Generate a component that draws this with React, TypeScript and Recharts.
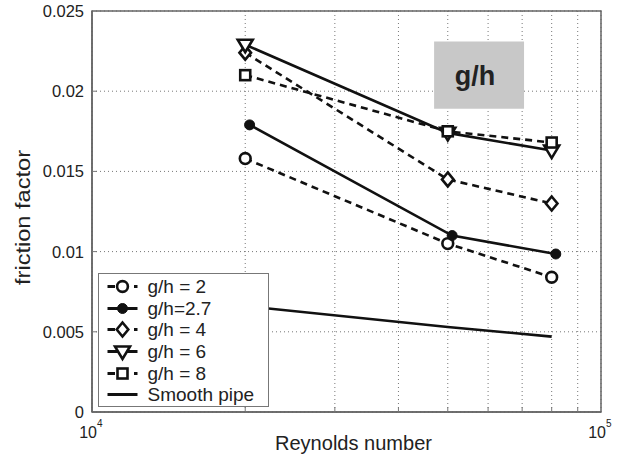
import React from "react";
import {
  LineChart,
  Line,
  XAxis,
  YAxis,
  CartesianGrid,
  ReferenceArea,
} from "recharts";

// ---- data ----
const reynolds = [20000, 50000, 80000];
const reynolds27 = [20400, 51000, 81500];
const gh2 = [0.0158, 0.0105, 0.0084];
const gh27 = [0.0179, 0.011, 0.00985];
const gh4 = [0.0224, 0.0145, 0.0130];
const gh6 = [0.0229, 0.0174, 0.0163];
const gh8 = [0.0210, 0.0175, 0.0168];
const smoothPipe = [0.0066, 0.0053, 0.0047];

const xTicks = [10000, 20000, 30000, 40000, 50000, 60000, 70000, 80000, 90000, 100000];
const yTicks = [0, 0.005, 0.01, 0.015, 0.02, 0.025];

const seriesNames = ["g/h = 2", "g/h=2.7", "g/h = 4", "g/h = 6", "g/h = 8", "Smooth pipe"];

const toRows = (xs: number[], ys: number[]) => xs.map((re, i) => ({ re, f: ys[i] }));

const FONT = "'Liberation Sans', Arial, Helvetica, sans-serif";
const INK = "#111";
const TXT = "#222";

type MarkerKind = "circle" | "dot" | "diamond" | "triangle" | "square" | "none";

const drawMarker = (kind: MarkerKind, cx: number, cy: number, key?: any) => {
  const sw = 2.6;
  switch (kind) {
    case "circle":
      return <circle key={key} cx={cx} cy={cy} r={5.4} fill="#fff" stroke={INK} strokeWidth={sw} />;
    case "dot":
      return <circle key={key} cx={cx} cy={cy} r={5} fill={INK} stroke={INK} strokeWidth={1} />;
    case "diamond":
      return (
        <polygon
          key={key}
          points={`${cx},${cy - 7} ${cx + 5.8},${cy} ${cx},${cy + 7} ${cx - 5.8},${cy}`}
          fill="#fff"
          stroke={INK}
          strokeWidth={sw}
        />
      );
    case "triangle":
      return (
        <polygon
          key={key}
          points={`${cx - 7.5},${cy - 5} ${cx + 7.5},${cy - 5} ${cx},${cy + 7.5}`}
          fill="#fff"
          stroke={INK}
          strokeWidth={sw}
        />
      );
    case "square":
      return <rect key={key} x={cx - 5} y={cy - 5} width={10} height={10} fill="#fff" stroke={INK} strokeWidth={sw} />;
    default:
      return <g key={key} />;
  }
};

const makeDot = (kind: MarkerKind) => (props: any) => {
  const { cx, cy, index } = props;
  if (cx == null || cy == null) return <g key={`d${index}`} />;
  return drawMarker(kind, cx, cy, `d${index}`);
};

const series = [
  { name: seriesNames[0], data: toRows(reynolds, gh2), dashed: true, marker: "circle" as MarkerKind },
  { name: seriesNames[1], data: toRows(reynolds27, gh27), dashed: false, marker: "dot" as MarkerKind },
  { name: seriesNames[2], data: toRows(reynolds, gh4), dashed: true, marker: "diamond" as MarkerKind },
  { name: seriesNames[3], data: toRows(reynolds, gh6), dashed: false, marker: "triangle" as MarkerKind },
  { name: seriesNames[4], data: toRows(reynolds, gh8), dashed: true, marker: "square" as MarkerKind },
  { name: seriesNames[5], data: toRows(reynolds, smoothPipe), dashed: false, marker: "none" as MarkerKind },
];

// tick props: y = axisLine + tickSize(6) + tickMargin(2)
const XTick = (props: any) => {
  const { x, y, payload } = props;
  const v = payload.value;
  const axisY = y - 8;
  const isDecade = v === 10000 || v === 100000;
  const exp = Math.round(Math.log10(v));
  return (
    <g>
      {!isDecade && <line x1={x} x2={x} y1={axisY} y2={axisY - 5} stroke="#777" strokeWidth={1} />}
      {isDecade && (
        <>
          <text x={x + 5} y={y + 18} textAnchor="end" fontSize={16} fontFamily={FONT} fill={TXT}>10</text>
          <text x={x + 5} y={y + 7} textAnchor="start" fontSize={10} fontFamily={FONT} fill={TXT}>{exp}</text>
        </>
      )}
    </g>
  );
};

const YTick = (props: any) => {
  const { x, y, payload, index } = props;
  const axisX = x + 8;
  const inner = index > 0 && index < yTicks.length - 1;
  return (
    <g>
      {inner && <line x1={axisX} x2={axisX + 5} y1={y} y2={y} stroke="#777" strokeWidth={1} />}
      <text x={x} y={y} dy="0.36em" textAnchor="end" fontSize={16.5} fontFamily={FONT} fill={TXT}>
        {String(payload.value)}
      </text>
    </g>
  );
};

const XLabel = (props: any) => {
  const vb = props.viewBox || {};
  const cx = vb.x + vb.width / 2 + 7;
  return (
    <text
      x={cx}
      y={vb.y + 38}
      textAnchor="middle"
      fontSize={20}
      fontFamily={FONT}
      fill={TXT}
      textLength={157}
      lengthAdjust="spacingAndGlyphs"
    >
      Reynolds number
    </text>
  );
};

const YLabel = (props: any) => {
  const vb = props.viewBox || {};
  const cx = 30;
  const cy = vb.y + vb.height / 2 + 6;
  return (
    <text
      x={cx}
      y={cy}
      transform={`rotate(-90 ${cx} ${cy})`}
      textAnchor="middle"
      fontSize={21}
      fontFamily={FONT}
      fill={TXT}
      textLength={135}
      lengthAdjust="spacingAndGlyphs"
    >
      friction factor
    </text>
  );
};

const LegendBox = () => (
  <div
    style={{
      position: "absolute",
      left: 98,
      top: 273,
      width: 171,
      height: 134,
      border: "1.5px solid #777",
      background: "#fff",
      boxSizing: "border-box",
      paddingTop: 1.5,
    }}
  >
    {series.map((s) => (
      <div key={s.name} style={{ display: "flex", alignItems: "center", height: 21.7 }}>
        <svg width={48.5} height={21} style={{ display: "block", flex: "none" }}>
          {s.dashed ? (
            <>
              <line x1={8.5} x2={16} y1={10.5} y2={10.5} stroke={INK} strokeWidth={3} />
              <line x1={35} x2={38.5} y1={10.5} y2={10.5} stroke={INK} strokeWidth={3} />
            </>
          ) : (
            <line x1={8.5} x2={38.5} y1={10.5} y2={10.5} stroke={INK} strokeWidth={3} />
          )}
          {drawMarker(s.marker, 23.5, 10.5)}
        </svg>
        <span style={{ fontFamily: FONT, fontSize: 19, color: TXT, lineHeight: "21px", whiteSpace: "nowrap" }}>
          {s.name}
        </span>
      </div>
    ))}
  </div>
);

export default function App() {
  return (
    <div style={{ position: "absolute", left: 0, top: 0, width: 624, height: 460, background: "#fff" }}>
      <LineChart
        width={624}
        height={460}
        margin={{ top: 11, right: 23, bottom: 18, left: 32 }}
      >
        <CartesianGrid stroke="#777" strokeDasharray="1 3" strokeWidth={1} />
        <XAxis
          xAxisId={0}
          type="number"
          dataKey="re"
          scale="log"
          domain={[10000, 100000]}
          ticks={xTicks}
          interval={0}
          allowDataOverflow
          height={30}
          tick={<XTick />}
          tickLine={false}
          axisLine={{ stroke: "#666", strokeWidth: 1.5 }}
          label={<XLabel />}
        />
        <YAxis
          yAxisId={0}
          type="number"
          domain={[0, 0.025]}
          ticks={yTicks}
          interval={0}
          width={60}
          tick={<YTick />}
          tickLine={false}
          axisLine={{ stroke: "#666", strokeWidth: 1.5 }}
          label={<YLabel />}
        />
        <ReferenceArea
          x1={10000}
          x2={100000}
          y1={0}
          y2={0.025}
          fill="none"
          stroke="#666"
          strokeWidth={1.5}
        />
        <ReferenceArea
          x1={47000}
          x2={70600}
          y1={0.0189}
          y2={0.0231}
          fill="#c8c8c8"
          fillOpacity={1}
          stroke="none"
          label={{
            value: "g/h",
            position: "center",
            fontSize: 27,
            fontWeight: "bold",
            fontFamily: FONT,
            fill: TXT,
            dx: -4,
          }}
        />
        {series.map((s) => (
          <Line
            key={s.name}
            name={s.name}
            data={s.data}
            dataKey="f"
            type="linear"
            stroke={INK}
            strokeWidth={2.6}
            strokeDasharray={s.dashed ? "7 5" : undefined}
            dot={makeDot(s.marker)}
            activeDot={false}
            isAnimationActive={false}
          />
        ))}
      </LineChart>
      <LegendBox />
    </div>
  );
}
